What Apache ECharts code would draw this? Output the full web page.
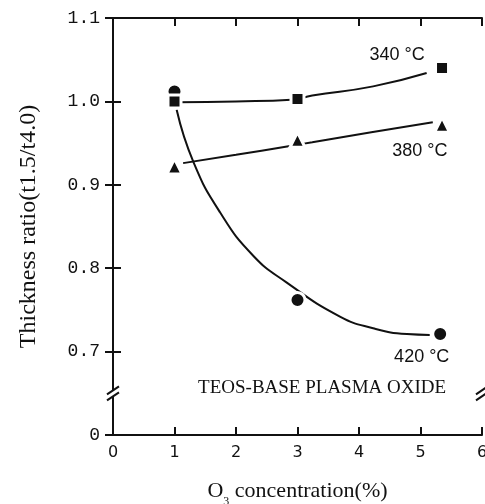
<!DOCTYPE html>
<html>
<head>
<meta charset="utf-8">
<script src="https://cdn.jsdelivr.net/npm/echarts@6/dist/echarts.min.js"></script>
<style>
  html, body { margin: 0; padding: 0; background: #fff; }
  #chart { width: 485px; height: 504px; }
</style>
</head>
<body>
<div id="chart"></div>
<script>
// measured points
var pts340 = [[1, 1.0], [3, 1.003], [5.35, 1.04]]
var pts380 = [[1, 0.922], [3, 0.954], [5.35, 0.972]]
var pts420 = [[1, 1.012], [3, 0.762], [5.32, 0.721]]

// hand drawn fit curves
var curve340 = [[1.05, 0.999], [2.0, 1.0], [2.9, 1.002], [3.24, 1.007], [4.23, 1.018], [5.1, 1.034]]
var curve380 = [[1.14, 0.926], [2.0, 0.936], [2.83, 0.946], [3.24, 0.951], [4.2, 0.963], [5.2, 0.975]]
var curve420 = [[1.035, 0.99], [1.31, 0.927], [1.74, 0.867], [2.28, 0.815], [2.82, 0.783],
  [3.69, 0.742], [4.23, 0.728], [4.78, 0.721], [5.15, 0.72]]

var xTicks = [0, 1, 2, 3, 4, 5, 6]
var yTicks = ['0', '0.7', '0.8', '0.9', '1.0', '1.1']

var tempPos = [[4.62, 1.056], [4.99, 0.94], [5.02, 0.694]]
var tempText = ['340 °C', '380 °C', '420 °C']
var notePos = [[3.4, 0.656]]
var noteText = ['TEOS-BASE PLASMA OXIDE']
var breakPos = [[0, 0.65], [6, 0.65]]

var chart = echarts.init(document.getElementById('chart'))

var tick = { show: true, inside: true, length: 8, lineStyle: { color: '#111', width: 2 } }
var spine = { show: true, lineStyle: { color: '#111', width: 2 } }

function lineSeries(data) {
  return {
    type: 'line', data: data, smooth: 0.5, showSymbol: false, silent: true, z: 2,
    lineStyle: { color: '#111', width: 2 }
  }
}
function markSeries(data, symbol, size) {
  return {
    type: 'scatter', data: data, symbol: symbol, symbolSize: size, z: 3,
    itemStyle: { color: '#111', opacity: 1, borderColor: '#fff', borderWidth: 3 }
  }
}
function textSeries(data, texts, font, size) {
  return {
    type: 'scatter', data: data, symbolSize: 0, silent: true, z: 4,
    itemStyle: { opacity: 1 },
    label: {
      show: true, position: 'inside', color: '#111', opacity: 1, fontFamily: font, fontSize: size,
      formatter: function (p) { return texts[p.dataIndex] }
    }
  }
}

chart.setOption({
  animation: false,
  grid: { left: 113, right: 3, top: 18, bottom: 69, outerBoundsMode: 'none', containLabel: false },
  xAxis: [{
    type: 'value', min: 0, max: 6, interval: 1, position: 'bottom',
    axisLine: spine, axisTick: tick, splitLine: { show: false },
    axisLabel: {
      margin: 10, color: '#111', fontFamily: 'DejaVu Sans', fontSize: 16,
      formatter: function (v) { return xTicks[Math.round(v)] }
    },
    name: '{a|O}{s|3}{a| concentration(%)}', nameLocation: 'middle', nameGap: 45,
    nameTextStyle: {
      rich: {
        a: { fontFamily: 'Liberation Serif', fontSize: 22, color: '#111' },
        s: { fontFamily: 'Liberation Serif', fontSize: 12, color: '#111', verticalAlign: 'bottom', padding: [0, 0, -6, 0] }
      }
    }
  }, {
    type: 'value', min: 0, max: 6, interval: 1, position: 'top',
    axisLine: spine, axisTick: tick, axisLabel: { show: false }, splitLine: { show: false }
  }],
  yAxis: [{
    type: 'value', min: 0.6, max: 1.1, interval: 0.1, position: 'left',
    axisLine: spine, axisTick: tick, splitLine: { show: false },
    axisLabel: {
      margin: 13, color: '#111', fontFamily: 'Liberation Mono', fontSize: 18,
      formatter: function (v) { return yTicks[Math.round((v - 0.6) * 10)] }
    },
    name: 'Thickness ratio(t1.5/t4.0)', nameLocation: 'middle', nameGap: 72,
    nameTextStyle: { fontFamily: 'Liberation Serif', fontSize: 24, color: '#111' }
  }, {
    type: 'value', min: 0.6, max: 1.1, interval: 0.1, position: 'right',
    axisLine: spine, axisTick: tick, axisLabel: { show: false }, splitLine: { show: false }
  }],
  series: [
    lineSeries(curve340),
    lineSeries(curve380),
    lineSeries(curve420),
    markSeries(pts420, 'circle', 15),
    markSeries(pts380, 'triangle', 15),
    markSeries(pts340, 'rect', 13),
    textSeries(tempPos, tempText, 'Liberation Sans', 18),
    textSeries(notePos, noteText, 'Liberation Serif', 19),
    {
      // axis break marks
      type: 'custom', silent: true, z: 5,
      data: breakPos,
      renderItem: function (params, api) {
        var p = api.coord([api.value(0), api.value(1)])
        var w = 6, h = 4, gap = 3
        return {
          type: 'group',
          children: [
            { type: 'rect', shape: { x: p[0] - 3, y: p[1] - gap, width: 6, height: gap * 2 }, style: { fill: '#fff' } },
            { type: 'line', shape: { x1: p[0] - w, y1: p[1] - gap + h, x2: p[0] + w, y2: p[1] - gap - h }, style: { stroke: '#111', lineWidth: 2 } },
            { type: 'line', shape: { x1: p[0] - w, y1: p[1] + gap + h, x2: p[0] + w, y2: p[1] + gap - h }, style: { stroke: '#111', lineWidth: 2 } }
          ]
        }
      }
    }
  ]
})
</script>
</body>
</html>
